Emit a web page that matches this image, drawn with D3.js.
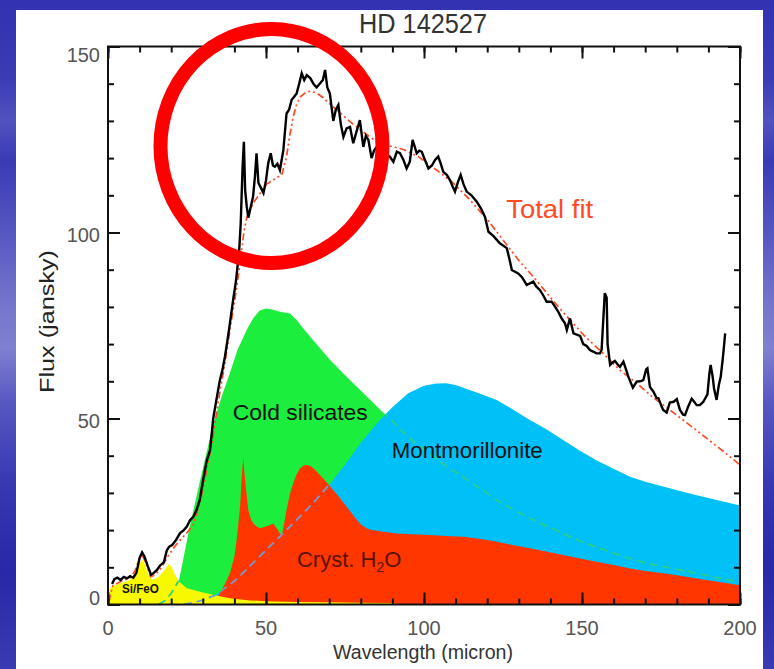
<!DOCTYPE html>
<html><head><meta charset="utf-8">
<script src="https://cdn.jsdelivr.net/npm/d3@7"></script>
<style>body{margin:0;background:#fff}svg{display:block}</style>
</head><body>
<svg id="c" width="774" height="669"></svg>
<script>
// ---------------- data ----------------
const title = "HD 142527";
const xLabel = "Wavelength (micron)";
const yLabel = "Flux (jansky)";
const xTicks = [0, 50, 100, 150, 200];
const yTicks = [0, 50, 100, 150];

// observed spectrum [wavelength, flux]
const observed = [[1.3,5.5],[2,6.8],[3,7.2],[4,6.6],[5,7.4],[6,7.0],[7,7.6],[8,7.2],[9,8.5],[10,12.5],[10.8,14],[11.5,13],[12.5,10.5],[13.6,8],[14.5,8.5],[15.5,9.3],[16.5,10.5],[17.7,11.4],[18.6,14.5],[19.3,15.5],[20.3,16],[21.5,17.3],[22.8,19.2],[24,20],[25,21],[26,22.7],[27,23.6],[28,25.4],[29,28],[30,33],[31.2,38.5],[32.3,41.5],[33.3,50],[34.3,55],[35.4,60.3],[36.2,63],[37,66.6],[37.8,71],[38.6,75.7],[39.6,81.9],[40.5,87],[41.5,95],[42,102.5],[42.6,117.7],[43,124.4],[43.4,111.4],[43.9,107],[44.4,104],[45.2,107],[45.9,109.6],[46.5,115],[47,121.3],[47.6,113.3],[48.4,112],[49.2,110.6],[50,114],[50.7,118.6],[51.5,121.3],[52.2,118],[52.8,117.7],[53.6,118.5],[54.4,116.8],[55.5,122.2],[56.5,132],[57.3,133],[58.1,135.6],[59.7,137.4],[60.5,140],[61.3,142.8],[62.1,141],[62.9,142.3],[64,141.5],[65,140],[66,139],[67,140],[68,141],[68.7,143.7],[69.4,139],[70.2,137.4],[71.3,130],[72.1,133],[72.9,134.3],[73.7,129],[74.5,125.7],[75.5,128],[76.6,128.4],[77.6,124],[78.6,127],[79.7,130.2],[80.8,123],[81.6,126],[82.4,124.9],[83.4,120],[84.2,122],[85,123],[86,121.5],[87.1,122.2],[88.5,120.5],[89.2,120.4],[90.3,119],[91.4,121.7],[92.4,121.3],[93.5,119.5],[94.5,117.2],[95.5,119],[96.4,124.9],[97.7,121.3],[98.5,122],[99.3,121.7],[100.3,119.5],[101.4,117.2],[102.5,118],[103.5,119.5],[104.5,120.4],[105.3,118.5],[106.1,116.3],[107.2,115.5],[108.2,114.1],[109,112.5],[109.8,111],[110.7,113.5],[111.6,115.5],[112.5,113],[113.5,111],[115,110],[116.7,108.3],[118,106.5],[119.3,104.2],[120.4,100.2],[122,99],[124,97.1],[126.2,95.8],[127,93],[127.8,89.9],[129.8,89],[131,88],[132.5,85.9],[134.6,86.8],[135.5,85.5],[136.7,84.5],[137.8,83],[138.8,81.4],[140.4,81.4],[141.5,80],[142.5,78.7],[143.5,77],[144.6,75.6],[145.2,73.8],[146.2,76.9],[147.3,72.9],[149.4,72.2],[150.4,70],[151.5,69.5],[152.5,68.4],[153.5,68],[154.6,67.5],[155.7,67.5],[156.2,68.4],[156.7,76],[157.2,83.7],[157.8,82.5],[158.1,70],[158.9,64.4],[159.6,65],[160.4,65.5],[161.3,64.5],[162,63.9],[163.1,65.3],[164,63],[164.7,61.2],[165.5,59.5],[166.1,58.3],[167.3,59.9],[168.4,60],[169.4,60.3],[170.3,63.2],[170.7,63.5],[171.5,58.5],[172.6,57.2],[173.6,55.5],[174.2,55.4],[175.2,53.2],[175.7,52.3],[176.8,51.6],[177.8,54.3],[179,54.5],[180,55.2],[181,52.3],[182,51],[182.6,50.9],[183.5,53],[184.7,55.3],[185.5,54.5],[186.3,53.6],[187.3,53.6],[188.4,54.5],[189.7,56.5],[190.3,62],[190.7,64.4],[191.3,61.5],[191.8,58],[192.6,55],[193.3,59],[193.9,61.2],[194.5,65.7],[195,70],[195.3,72.9]];

// total model fit
const totalFit = [[0.3,0.8],[1,3.5],[1.5,5],[4,6.2],[7,7.2],[8.5,9],[10,12.5],[11,13],[12,11],[13.5,7.5],[15,8],[17,10],[19,13],[21,15.5],[23,17.5],[25,19.3],[27,21.5],[29,27],[31.2,36],[33,44],[35,55],[37,65],[39,76],[40.5,84],[41.8,92],[43,100],[43.9,104],[46,108],[50.2,113],[53,114.5],[55,115.5],[56.5,120.4],[57.5,126],[58.6,131],[59.7,134.5],[60.8,136.4],[62.5,137.6],[64,138],[66,137.5],[68,136.3],[70,134.7],[73,132.5],[76.6,129.8],[80,127.5],[85,124.4],[89,123.3],[93.5,122.3],[98,120.5],[104,116.8],[109,113.5],[114.6,108.7],[120,103.5],[125,98],[130,92.5],[135.7,87],[141,81.5],[146.2,76.5],[151,72],[156.7,67.5],[162,63],[167.3,59.5],[172,56],[177.8,52.3],[182,49.6],[186,47],[190,44.3],[195,41],[200,37.5]];

// model components
const coldSilicates = [[16,0],[18,1],[20,3],[22.5,6.6],[24,13],[26,21.5],[28,29],[30,36.5],[33.3,48.5],[36,56],[38.6,62.3],[41,68.5],[44,74],[46,77],[48,79],[50,79.6],[52,79.3],[54.4,78.7],[57.6,78.2],[59.7,76.5],[62,74],[65,71],[70.3,65.7],[75.5,61.2],[81.9,55.9],[86,52.5],[90,49.3],[95,45],[102,40.3],[107,37.2],[112.4,34.3],[118,31],[123,28.1],[128,25.6],[133.5,23.2],[139,21],[144,19.1],[149,17.2],[154.5,15.5],[160,13.8],[165,12.4],[170,11.2],[175.7,10.2],[181,9.3],[186.3,8.4],[193,7.2],[200,6.0]];

const montmorillonite = [[24,0],[27,0.5],[30,1.2],[34,2.5],[40,6.3],[45,10.4],[50,14.6],[55,18.8],[60,23],[63,25.6],[66.5,28.8],[70,32.2],[75,37.6],[80,43.5],[86,49.6],[90,53],[95,56.8],[100,58.8],[104,59.4],[107,59.5],[110,59],[114,57.8],[118,56.6],[123,55],[128,52.5],[133.5,49.6],[139,47],[144,44.2],[149,41.5],[154.5,38.8],[160,36.5],[165,34.4],[170,33],[175.7,31.7],[181,30.5],[186.3,29.4],[193,28],[200,26.6]];

const crystH2O = [[33,0],[35.4,3],[37,5.5],[38.6,8.4],[40,13],[40.7,17.3],[41.8,26.3],[42.3,34.4],[42.8,39.3],[43.2,35],[43.7,30.8],[44.4,25.4],[45.2,23],[46,21.8],[47,21],[48.1,20.5],[49.5,20.8],[51.3,21.4],[52.3,21.8],[53.4,20.5],[54.4,19.1],[55,18.7],[55.8,22],[56.5,25.4],[57.5,29.5],[58.6,32.6],[59.7,35],[60.8,36.6],[62,37.4],[62.9,37.5],[64,37.2],[65,36.6],[66.5,35.3],[68.1,33.9],[70.3,31.7],[73,29],[75.5,26.3],[78,23.5],[80,21.5],[81.9,20.4],[83,20.1],[86,19.7],[91.4,19.1],[96,18.9],[101.9,18.7],[107,18.4],[112.4,18.2],[118,17.6],[123,16.9],[128,16],[133.5,15.1],[139,14.2],[144,13.3],[149,12.4],[154.5,11.5],[160,10.6],[165.2,9.7],[170,9],[175.7,8.4],[181,7.7],[186.3,7],[193,6.1],[200,5.2]];

const siFeO = [[0.5,0],[0.6,4.2],[1,4.7],[4,5.7],[7,6.6],[8.2,8],[9.3,10.2],[10.9,12],[11.8,10.5],[12.5,8.4],[14,6.6],[16.1,7.5],[18.3,9.7],[19.3,11],[20.2,10],[20.9,8.4],[22.5,6.1],[25,4.4],[30,3.2],[35,2.3],[39,1.6],[45,1.1],[50,0.9],[60,0.7],[70,0.6],[80,0.5],[90,0.4],[92,0]];

const labels = [
  {text: "Total fit", at: [126, 104]},
  {text: "Cold silicates", at: [39.5, 49.5]},
  {text: "Montmorillonite", at: [89.8, 39.5]},
  {text: "Si/FeO", at: [4.4, 3.2]}
];

// ---------------- drawing ----------------
const svg = d3.select("#c");
const FONT = "'Liberation Sans', Arial, Helvetica, sans-serif";
const defs = svg.append("defs");

const bg = defs.append("linearGradient").attr("id","bg").attr("x1",0).attr("y1",0).attr("x2",0).attr("y2",1);
[[0,"#3232b2"],[0.12,"#3c3cb6"],[0.18,"#5252c0"],[0.24,"#3a3ab5"],[0.36,"#5a5ac3"],[0.45,"#7474cb"],[0.52,"#8080d0"],[0.6,"#5858c2"],[0.72,"#3838b3"],[0.85,"#2828a8"],[1,"#3a3ab3"]]
  .forEach(s => bg.append("stop").attr("offset", s[0]).attr("stop-color", s[1]));

svg.append("rect").attr("width",774).attr("height",669).attr("fill","url(#bg)");
svg.append("rect").attr("x",16).attr("y",10).attr("width",747).attr("height",659).attr("fill","#ffffff");

const x = d3.scaleLinear().domain([0,200]).range([108,740]);
const y = d3.scaleLinear().domain([0,150]).range([604.5,46.5]);

const area = d3.area().x(d => x(d[0])).y0(y(0)).y1(d => y(d[1]));
const line = d3.line().x(d => x(d[0])).y(d => y(d[1]));

// clip regions for hidden parts of components
const clipGreen = defs.append("clipPath").attr("id","clipGreen");
[montmorillonite, crystH2O, siFeO].forEach(s => clipGreen.append("path").attr("d", area(s)));
const clipBlue = defs.append("clipPath").attr("id","clipBlue");
[crystH2O, siFeO].forEach(s => clipBlue.append("path").attr("d", area(s)));

const plot = svg.append("g");
plot.append("path").attr("d", area(coldSilicates)).attr("fill","#1cee3e");
plot.append("path").attr("d", area(montmorillonite)).attr("fill","#00c0f8");
plot.append("path").attr("d", area(crystH2O)).attr("fill","#ff3600");
plot.append("path").attr("d", area(siFeO)).attr("fill","#f8f800");

plot.append("path").attr("d", line(coldSilicates)).attr("clip-path","url(#clipGreen)")
  .attr("fill","none").attr("stroke","#2ad08a").attr("stroke-width",1.8).attr("stroke-dasharray","8,5");
plot.append("path").attr("d", line(montmorillonite)).attr("clip-path","url(#clipBlue)")
  .attr("fill","none").attr("stroke","#6f9fd2").attr("stroke-width",1.8).attr("stroke-dasharray","8,5");

plot.append("path").attr("d", line(totalFit)).attr("fill","none")
  .attr("stroke","#ff4a24").attr("stroke-width",1.7).attr("stroke-dasharray","7,3,2,3,2,3");

plot.append("path").attr("d", line(observed)).attr("fill","none")
  .attr("stroke","#000").attr("stroke-width",2.4).attr("stroke-linejoin","miter");

// axes (ticks inward on all four sides)
const minorX = d3.range(0, 201, 10), minorY = d3.range(0, 151, 10);
function styleAxis(g){ g.select(".domain").remove(); g.selectAll("line").attr("stroke","#111").attr("stroke-width",2); g.selectAll("text").remove(); }
[[d3.axisBottom, 604.5],[d3.axisTop, 46.5]].forEach(([ax, ty]) => {
  svg.append("g").attr("transform",`translate(0,${ty})`).call(ax(x).tickValues(minorX).tickSize(-6)).call(styleAxis);
  svg.append("g").attr("transform",`translate(0,${ty})`).call(ax(x).tickValues(xTicks).tickSize(-12)).call(styleAxis);
});
[[d3.axisLeft, 108],[d3.axisRight, 740]].forEach(([ax, tx]) => {
  svg.append("g").attr("transform",`translate(${tx},0)`).call(ax(y).tickValues(minorY).tickSize(-6)).call(styleAxis);
  svg.append("g").attr("transform",`translate(${tx},0)`).call(ax(y).tickValues(yTicks).tickSize(-12)).call(styleAxis);
});
svg.append("rect").attr("x",x(0)).attr("y",y(150)).attr("width",x(200)-x(0)).attr("height",y(0)-y(150))
  .attr("fill","none").attr("stroke","#111").attr("stroke-width",2);

// tick labels
svg.append("g").selectAll("text").data(xTicks).join("text")
  .attr("x", d => x(d)).attr("y", 635).attr("text-anchor","middle")
  .attr("font-family",FONT).attr("font-size",20).attr("fill","#555").text(d => d);
const yShift = t => t === 150 ? 8.5 : t === 0 ? -7 : 2;
svg.append("g").selectAll("text").data(yTicks).join("text")
  .attr("x", 100).attr("y", d => y(d) + yShift(d)).attr("dy","0.36em").attr("text-anchor","end")
  .attr("font-family",FONT).attr("font-size",20).attr("fill","#555").text(d => d);

// titles
svg.append("text").attr("x",423).attr("y",33).attr("text-anchor","middle")
  .attr("font-family",FONT).attr("font-size",27).attr("fill","#333")
  .attr("textLength",128).attr("lengthAdjust","spacingAndGlyphs").text(title);
svg.append("text").attr("x",423).attr("y",659).attr("text-anchor","middle")
  .attr("font-family",FONT).attr("font-size",20).attr("fill","#333")
  .attr("textLength",180).attr("lengthAdjust","spacingAndGlyphs").text(xLabel);
svg.append("text").attr("transform","translate(54,321.5) rotate(-90)").attr("text-anchor","middle")
  .attr("font-family",FONT).attr("font-size",21).attr("fill","#222")
  .attr("textLength",143).attr("lengthAdjust","spacingAndGlyphs").text(yLabel);

// annotations
svg.append("text").attr("x",x(labels[0].at[0])).attr("y",y(labels[0].at[1]))
  .attr("font-family",FONT).attr("font-size",26).attr("fill","#ff4a24")
  .attr("textLength",87).attr("lengthAdjust","spacingAndGlyphs").text(labels[0].text);
svg.append("text").attr("x",x(labels[1].at[0])).attr("y",y(labels[1].at[1]))
  .attr("font-family",FONT).attr("font-size",22).attr("fill","#111")
  .attr("textLength",135).attr("lengthAdjust","spacingAndGlyphs").text(labels[1].text);
svg.append("text").attr("x",x(labels[2].at[0])).attr("y",y(labels[2].at[1]))
  .attr("font-family",FONT).attr("font-size",22).attr("fill","#111")
  .attr("textLength",151).attr("lengthAdjust","spacingAndGlyphs").text(labels[2].text);
svg.append("text").attr("x",x(labels[3].at[0])).attr("y",y(labels[3].at[1]))
  .attr("font-family",FONT).attr("font-size",12).attr("font-weight","bold").attr("fill","#111")
  .attr("textLength",37).attr("lengthAdjust","spacingAndGlyphs").text(labels[3].text);
const cr = svg.append("text").attr("x",x(59.8)).attr("y",y(10))
  .attr("font-family",FONT).attr("font-size",22).attr("fill","#5a1204");
cr.append("tspan").text("Cryst. H");
cr.append("tspan").attr("font-size",14).attr("dy",5).text("2");
cr.append("tspan").attr("dy",-5).text("O");

// red highlight circle
svg.append("ellipse").attr("cx",271.5).attr("cy",146).attr("rx",111).attr("ry",117)
  .attr("fill","none").attr("stroke","#ff0000").attr("stroke-width",14);
</script>
</body></html>
